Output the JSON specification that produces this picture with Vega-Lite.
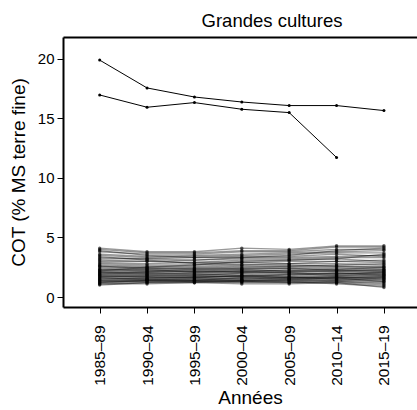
{
  "$schema": "https://vega.github.io/schema/vega-lite/v6.json",
  "autosize": "none",
  "padding": {"left": 63, "top": 37, "right": 0, "bottom": 103},
  "width": 354,
  "height": 270,
  "background": "white",
  "config": {
    "view": {"stroke": null},
    "font": "Liberation Sans",
    "axis": {"grid": false, "domainColor": "black", "tickColor": "black", "labelColor": "black", "titleColor": "black", "titleFontWeight": "normal", "labelFont": "Liberation Sans", "titleFont": "Liberation Sans"}
  },
  "title": {"text": "Grandes cultures", "fontSize": 18.5, "fontWeight": "normal", "font": "Liberation Sans", "color": "black", "anchor": "middle", "dx": 32, "offset": 7},
  "data": {"values": [
    {"s":"h1","y":1985,"v":19.9},{"s":"h1","y":1990,"v":17.56},{"s":"h1","y":1995,"v":16.8},{"s":"h1","y":2000,"v":16.38},{"s":"h1","y":2005,"v":16.08},{"s":"h1","y":2010,"v":16.08},{"s":"h1","y":2015,"v":15.66},
    {"s":"h2","y":1985,"v":16.97},{"s":"h2","y":1990,"v":15.94},{"s":"h2","y":1995,"v":16.33},{"s":"h2","y":2000,"v":15.77},{"s":"h2","y":2005,"v":15.49},{"s":"h2","y":2010,"v":11.72},
    {"s":"a1","y":1985,"v":1.0},{"s":"a1","y":1990,"v":1.2},{"s":"a1","y":1995,"v":1.2},{"s":"a1","y":2000,"v":1.1},{"s":"a1","y":2005,"v":1.1},{"s":"a1","y":2010,"v":1.2},{"s":"a1","y":2015,"v":0.8},
    {"s":"a2","y":1985,"v":1.1},{"s":"a2","y":1990,"v":1.2},{"s":"a2","y":1995,"v":1.3},{"s":"a2","y":2000,"v":1.2},{"s":"a2","y":2005,"v":1.2},{"s":"a2","y":2010,"v":1.2},{"s":"a2","y":2015,"v":1.0},
    {"s":"a3","y":1985,"v":1.2},{"s":"a3","y":1990,"v":1.3},{"s":"a3","y":1995,"v":1.3},{"s":"a3","y":2000,"v":1.3},{"s":"a3","y":2005,"v":1.2},{"s":"a3","y":2010,"v":1.3},{"s":"a3","y":2015,"v":1.1},
    {"s":"a4","y":1985,"v":1.3},{"s":"a4","y":1990,"v":1.3},{"s":"a4","y":1995,"v":1.4},{"s":"a4","y":2000,"v":1.4},{"s":"a4","y":2005,"v":1.3},{"s":"a4","y":2010,"v":1.4},{"s":"a4","y":2015,"v":1.3},
    {"s":"a5","y":1985,"v":1.3},{"s":"a5","y":1990,"v":1.4},{"s":"a5","y":1995,"v":1.4},{"s":"a5","y":2000,"v":1.3},{"s":"a5","y":2005,"v":1.4},{"s":"a5","y":2010,"v":1.5},{"s":"a5","y":2015,"v":1.4},
    {"s":"a6","y":1985,"v":1.4},{"s":"a6","y":1990,"v":1.4},{"s":"a6","y":1995,"v":1.5},{"s":"a6","y":2000,"v":1.5},{"s":"a6","y":2005,"v":1.5},{"s":"a6","y":2010,"v":1.4},{"s":"a6","y":2015,"v":1.5},
    {"s":"a7","y":1985,"v":1.5},{"s":"a7","y":1990,"v":1.5},{"s":"a7","y":1995,"v":1.4},{"s":"a7","y":2000,"v":1.6},{"s":"a7","y":2005,"v":1.5},{"s":"a7","y":2010,"v":1.6},{"s":"a7","y":2015,"v":1.6},
    {"s":"a8","y":1985,"v":1.5},{"s":"a8","y":1990,"v":1.6},{"s":"a8","y":1995,"v":1.6},{"s":"a8","y":2000,"v":1.5},{"s":"a8","y":2005,"v":1.6},{"s":"a8","y":2010,"v":1.7},{"s":"a8","y":2015,"v":1.5},
    {"s":"a9","y":1985,"v":1.6},{"s":"a9","y":1990,"v":1.6},{"s":"a9","y":1995,"v":1.7},{"s":"a9","y":2000,"v":1.7},{"s":"a9","y":2005,"v":1.6},{"s":"a9","y":2010,"v":1.6},{"s":"a9","y":2015,"v":1.7},
    {"s":"a10","y":1985,"v":1.7},{"s":"a10","y":1990,"v":1.7},{"s":"a10","y":1995,"v":1.6},{"s":"a10","y":2000,"v":1.8},{"s":"a10","y":2005,"v":1.7},{"s":"a10","y":2010,"v":1.8},{"s":"a10","y":2015,"v":1.8},
    {"s":"a11","y":1985,"v":1.7},{"s":"a11","y":1990,"v":1.8},{"s":"a11","y":1995,"v":1.8},{"s":"a11","y":2000,"v":1.7},{"s":"a11","y":2005,"v":1.9},{"s":"a11","y":2010,"v":1.8},{"s":"a11","y":2015,"v":1.9},
    {"s":"a12","y":1985,"v":1.8},{"s":"a12","y":1990,"v":1.8},{"s":"a12","y":1995,"v":1.9},{"s":"a12","y":2000,"v":1.9},{"s":"a12","y":2005,"v":1.8},{"s":"a12","y":2010,"v":2.0},{"s":"a12","y":2015,"v":1.9},
    {"s":"a13","y":1985,"v":1.9},{"s":"a13","y":1990,"v":1.9},{"s":"a13","y":1995,"v":1.8},{"s":"a13","y":2000,"v":2.0},{"s":"a13","y":2005,"v":2.0},{"s":"a13","y":2010,"v":1.9},{"s":"a13","y":2015,"v":2.1},
    {"s":"a14","y":1985,"v":2.0},{"s":"a14","y":1990,"v":1.9},{"s":"a14","y":1995,"v":2.0},{"s":"a14","y":2000,"v":2.0},{"s":"a14","y":2005,"v":2.1},{"s":"a14","y":2010,"v":2.1},{"s":"a14","y":2015,"v":2.0},
    {"s":"a15","y":1985,"v":2.0},{"s":"a15","y":1990,"v":2.1},{"s":"a15","y":1995,"v":2.1},{"s":"a15","y":2000,"v":2.2},{"s":"a15","y":2005,"v":2.1},{"s":"a15","y":2010,"v":2.2},{"s":"a15","y":2015,"v":2.2},
    {"s":"a16","y":1985,"v":2.1},{"s":"a16","y":1990,"v":2.1},{"s":"a16","y":1995,"v":2.2},{"s":"a16","y":2000,"v":2.1},{"s":"a16","y":2005,"v":2.3},{"s":"a16","y":2010,"v":2.2},{"s":"a16","y":2015,"v":2.3},
    {"s":"a17","y":1985,"v":2.2},{"s":"a17","y":1990,"v":2.2},{"s":"a17","y":1995,"v":2.2},{"s":"a17","y":2000,"v":2.3},{"s":"a17","y":2005,"v":2.2},{"s":"a17","y":2010,"v":2.4},{"s":"a17","y":2015,"v":2.3},
    {"s":"a18","y":1985,"v":2.3},{"s":"a18","y":1990,"v":2.2},{"s":"a18","y":1995,"v":2.3},{"s":"a18","y":2000,"v":2.4},{"s":"a18","y":2005,"v":2.4},{"s":"a18","y":2010,"v":2.3},{"s":"a18","y":2015,"v":2.5},
    {"s":"a19","y":1985,"v":2.4},{"s":"a19","y":1990,"v":2.3},{"s":"a19","y":1995,"v":2.4},{"s":"a19","y":2000,"v":2.4},{"s":"a19","y":2005,"v":2.5},{"s":"a19","y":2010,"v":2.5},{"s":"a19","y":2015,"v":2.4},
    {"s":"a20","y":1985,"v":2.5},{"s":"a20","y":1990,"v":2.4},{"s":"a20","y":1995,"v":2.4},{"s":"a20","y":2000,"v":2.5},{"s":"a20","y":2005,"v":2.6},{"s":"a20","y":2010,"v":2.6},{"s":"a20","y":2015,"v":2.6},
    {"s":"a21","y":1985,"v":2.6},{"s":"a21","y":1990,"v":2.5},{"s":"a21","y":1995,"v":2.5},{"s":"a21","y":2000,"v":2.6},{"s":"a21","y":2005,"v":2.6},{"s":"a21","y":2010,"v":2.7},{"s":"a21","y":2015,"v":2.8},
    {"s":"a22","y":1985,"v":2.7},{"s":"a22","y":1990,"v":2.6},{"s":"a22","y":1995,"v":2.6},{"s":"a22","y":2000,"v":2.7},{"s":"a22","y":2005,"v":2.8},{"s":"a22","y":2010,"v":2.8},{"s":"a22","y":2015,"v":2.7},
    {"s":"a23","y":1985,"v":2.8},{"s":"a23","y":1990,"v":2.7},{"s":"a23","y":1995,"v":2.7},{"s":"a23","y":2000,"v":2.9},{"s":"a23","y":2005,"v":2.8},{"s":"a23","y":2010,"v":3.0},{"s":"a23","y":2015,"v":2.9},
    {"s":"a24","y":1985,"v":2.9},{"s":"a24","y":1990,"v":2.8},{"s":"a24","y":1995,"v":2.9},{"s":"a24","y":2000,"v":2.9},{"s":"a24","y":2005,"v":3.0},{"s":"a24","y":2010,"v":3.0},{"s":"a24","y":2015,"v":3.1},
    {"s":"a25","y":1985,"v":3.0},{"s":"a25","y":1990,"v":3.0},{"s":"a25","y":1995,"v":2.9},{"s":"a25","y":2000,"v":3.1},{"s":"a25","y":2005,"v":3.1},{"s":"a25","y":2010,"v":3.2},{"s":"a25","y":2015,"v":3.0},
    {"s":"a26","y":1985,"v":3.1},{"s":"a26","y":1990,"v":3.0},{"s":"a26","y":1995,"v":3.1},{"s":"a26","y":2000,"v":3.2},{"s":"a26","y":2005,"v":3.2},{"s":"a26","y":2010,"v":3.3},{"s":"a26","y":2015,"v":3.3},
    {"s":"a27","y":1985,"v":3.2},{"s":"a27","y":1990,"v":3.2},{"s":"a27","y":1995,"v":3.1},{"s":"a27","y":2000,"v":3.3},{"s":"a27","y":2005,"v":3.3},{"s":"a27","y":2010,"v":3.4},{"s":"a27","y":2015,"v":3.5},
    {"s":"a28","y":1985,"v":3.3},{"s":"a28","y":1990,"v":3.2},{"s":"a28","y":1995,"v":3.3},{"s":"a28","y":2000,"v":3.4},{"s":"a28","y":2005,"v":3.4},{"s":"a28","y":2010,"v":3.6},{"s":"a28","y":2015,"v":3.4},
    {"s":"a29","y":1985,"v":3.5},{"s":"a29","y":1990,"v":3.3},{"s":"a29","y":1995,"v":3.4},{"s":"a29","y":2000,"v":3.5},{"s":"a29","y":2005,"v":3.6},{"s":"a29","y":2010,"v":3.7},{"s":"a29","y":2015,"v":3.7},
    {"s":"a30","y":1985,"v":3.6},{"s":"a30","y":1990,"v":3.4},{"s":"a30","y":1995,"v":3.5},{"s":"a30","y":2000,"v":3.6},{"s":"a30","y":2005,"v":3.7},{"s":"a30","y":2010,"v":3.8},{"s":"a30","y":2015,"v":3.9},
    {"s":"a31","y":1985,"v":3.8},{"s":"a31","y":1990,"v":3.6},{"s":"a31","y":1995,"v":3.6},{"s":"a31","y":2000,"v":3.8},{"s":"a31","y":2005,"v":3.8},{"s":"a31","y":2010,"v":4.0},{"s":"a31","y":2015,"v":4.0},
    {"s":"a32","y":1985,"v":4.0},{"s":"a32","y":1990,"v":3.7},{"s":"a32","y":1995,"v":3.7},{"s":"a32","y":2000,"v":3.9},{"s":"a32","y":2005,"v":3.9},{"s":"a32","y":2010,"v":4.2},{"s":"a32","y":2015,"v":4.2},
    {"s":"a33","y":1985,"v":4.1},{"s":"a33","y":1990,"v":3.8},{"s":"a33","y":1995,"v":3.8},{"s":"a33","y":2000,"v":4.1},{"s":"a33","y":2005,"v":4.0},{"s":"a33","y":2010,"v":4.3},{"s":"a33","y":2015,"v":4.3},
    {"s":"a34","y":1985,"v":1.2},{"s":"a34","y":1990,"v":1.4},{"s":"a34","y":1995,"v":1.3},{"s":"a34","y":2000,"v":1.4},{"s":"a34","y":2005,"v":1.4},{"s":"a34","y":2010,"v":1.3},{"s":"a34","y":2015,"v":1.2},
    {"s":"a35","y":1985,"v":1.4},{"s":"a35","y":1990,"v":1.5},{"s":"a35","y":1995,"v":1.5},{"s":"a35","y":2000,"v":1.4},{"s":"a35","y":2005,"v":1.5},{"s":"a35","y":2010,"v":1.6},{"s":"a35","y":2015,"v":1.3},
    {"s":"a36","y":1985,"v":1.6},{"s":"a36","y":1990,"v":1.5},{"s":"a36","y":1995,"v":1.6},{"s":"a36","y":2000,"v":1.6},{"s":"a36","y":2005,"v":1.7},{"s":"a36","y":2010,"v":1.5},{"s":"a36","y":2015,"v":1.6},
    {"s":"a37","y":1985,"v":1.8},{"s":"a37","y":1990,"v":1.7},{"s":"a37","y":1995,"v":1.7},{"s":"a37","y":2000,"v":1.8},{"s":"a37","y":2005,"v":1.6},{"s":"a37","y":2010,"v":1.7},{"s":"a37","y":2015,"v":1.7},
    {"s":"a38","y":1985,"v":1.9},{"s":"a38","y":1990,"v":2.0},{"s":"a38","y":1995,"v":1.9},{"s":"a38","y":2000,"v":1.8},{"s":"a38","y":2005,"v":1.9},{"s":"a38","y":2010,"v":2.0},{"s":"a38","y":2015,"v":1.8},
    {"s":"a39","y":1985,"v":2.1},{"s":"a39","y":1990,"v":2.0},{"s":"a39","y":1995,"v":2.0},{"s":"a39","y":2000,"v":2.1},{"s":"a39","y":2005,"v":2.0},{"s":"a39","y":2010,"v":1.9},{"s":"a39","y":2015,"v":2.0},
    {"s":"a40","y":1985,"v":2.3},{"s":"a40","y":1990,"v":2.3},{"s":"a40","y":1995,"v":2.1},{"s":"a40","y":2000,"v":2.2},{"s":"a40","y":2005,"v":2.2},{"s":"a40","y":2010,"v":2.2},{"s":"a40","y":2015,"v":2.1},
    {"s":"a41","y":1985,"v":2.6},{"s":"a41","y":1990,"v":2.4},{"s":"a41","y":1995,"v":2.3},{"s":"a41","y":2000,"v":2.3},{"s":"a41","y":2005,"v":2.4},{"s":"a41","y":2010,"v":2.3},{"s":"a41","y":2015,"v":2.2},
    {"s":"a42","y":1985,"v":3.4},{"s":"a42","y":1990,"v":3.1},{"s":"a42","y":1995,"v":2.8},{"s":"a42","y":2000,"v":2.7},{"s":"a42","y":2005,"v":2.7},{"s":"a42","y":2010,"v":2.6},{"s":"a42","y":2015,"v":2.5},
    {"s":"a43","y":1985,"v":2.2},{"s":"a43","y":1990,"v":2.5},{"s":"a43","y":1995,"v":2.7},{"s":"a43","y":2000,"v":3.0},{"s":"a43","y":2005,"v":3.1},{"s":"a43","y":2010,"v":3.2},{"s":"a43","y":2015,"v":3.6},
    {"s":"a44","y":1985,"v":3.9},{"s":"a44","y":1990,"v":3.5},{"s":"a44","y":1995,"v":3.3},{"s":"a44","y":2000,"v":3.3},{"s":"a44","y":2005,"v":3.5},{"s":"a44","y":2010,"v":3.9},{"s":"a44","y":2015,"v":4.1},
    {"s":"a45","y":1985,"v":1.1},{"s":"a45","y":1990,"v":1.1},{"s":"a45","y":1995,"v":1.2},{"s":"a45","y":2000,"v":1.3},{"s":"a45","y":2005,"v":1.3},{"s":"a45","y":2010,"v":1.1},{"s":"a45","y":2015,"v":0.9}
  ]},
  "encoding": {
    "x": {"field": "y", "type": "quantitative", "scale": {"domain": [1981.13, 2018.49], "nice": false, "zero": false}},
    "y": {"field": "v", "type": "quantitative", "scale": {"domain": [-0.84, 21.84], "nice": false, "zero": false}, "axis": {"values": [0, 5, 10, 15, 20], "title": "COT (% MS terre fine)", "titleFontSize": 19, "labelFontSize": 15, "tickSize": 6, "labelPadding": 3, "titlePadding": 9, "domainWidth": 2}},
    "detail": {"field": "s"}
  },
  "resolve": {"axis": {"x": "independent"}},
  "layer": [
    {
      "transform": [{"filter": "datum.v <= 8"}],
      "mark": {"type": "line", "color": "black", "strokeWidth": 1.3, "opacity": 0.4},
      "encoding": {"x": {"field": "y", "type": "quantitative", "axis": {"values": [1985, 1990, 1995, 2000, 2005, 2010, 2015], "labelExpr": "datum.value + '–' + slice('0' + ((datum.value + 4) % 100), -2)", "labelAngle": 270, "labelAlign": "right", "labelBaseline": "middle", "labelFontSize": 15.5, "labelPadding": 12, "tickSize": 6, "title": "Années", "titleFontSize": 19, "titlePadding": 3, "titleX": 187, "domainWidth": 2, "orient": "bottom"}}}
    },
    {
      "transform": [{"filter": "datum.v <= 8"}],
      "mark": {"type": "point", "filled": true, "color": "black", "size": 12, "opacity": 0.6},
      "encoding": {"x": {"field": "y", "type": "quantitative", "axis": {"orient": "top", "labels": false, "ticks": false, "title": null, "domainWidth": 2}}}
    },
    {
      "transform": [{"filter": "datum.v > 8"}],
      "mark": {"type": "line", "color": "black", "strokeWidth": 1},
      "encoding": {"x": {"field": "y", "type": "quantitative", "axis": null}}
    },
    {
      "transform": [{"filter": "datum.v > 8"}],
      "mark": {"type": "point", "filled": true, "color": "black", "size": 9, "opacity": 1},
      "encoding": {"x": {"field": "y", "type": "quantitative", "axis": null}}
    }
  ]
}
